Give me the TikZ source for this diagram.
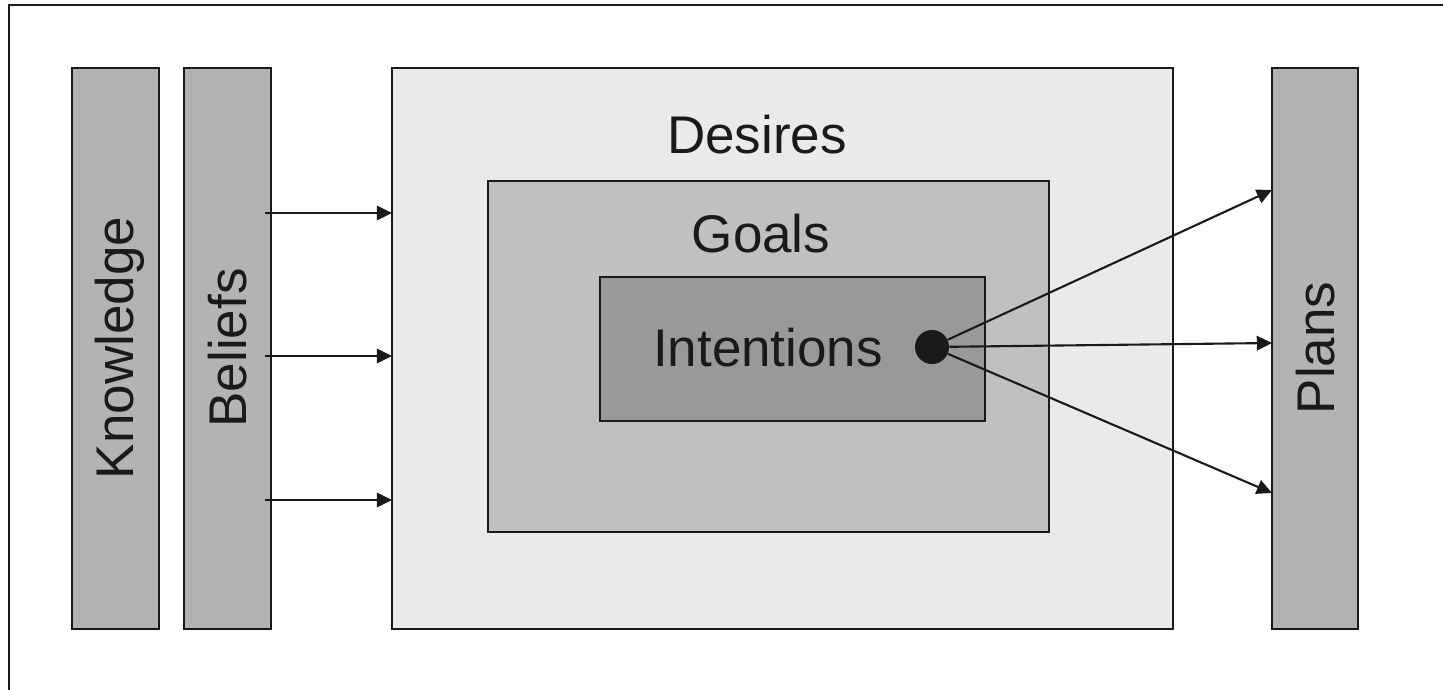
\documentclass[tikz,border=0pt]{standalone}
\usepackage{fontspec}
\setmainfont{Liberation Sans}
\usetikzlibrary{arrows.meta}
\definecolor{ink}{HTML}{1A1A1A}
\definecolor{sidegray}{HTML}{B3B3B3}
\definecolor{desiregray}{HTML}{EAEAEA}
\definecolor{goalgray}{HTML}{C0C0C0}
\definecolor{intentgray}{HTML}{999999}
\begin{document}
\begin{tikzpicture}[x=0.025cm,y=-0.025cm,
  box/.style={draw=ink,line width=2.1pt,inner sep=0pt},
  innerbox/.style={draw=ink,line width=1.6pt,inner sep=0pt},
  label/.style={text=ink,font=\fontsize{37.7}{45}\selectfont,inner sep=0pt},
  vlabel/.style={label,rotate=90,anchor=base},
  link/.style={draw=ink,line width=1.5pt,-{Triangle[length=0.38cm,width=0.36cm]}}]
  \useasboundingbox (0,0) rectangle (1443,690);
  \begin{scope}
    \clip (0,0) rectangle (1443,690);
    \draw[ink,line width=2.1pt] (9,5) rectangle (1460,710);
  \end{scope}

  % side columns
  \path[box,fill=sidegray] (72,68) rectangle (159,629);
  \node[vlabel] (knowledge) at (133,348) {Knowledge};
  \path[box,fill=sidegray] (184,68) rectangle (271,629);
  \node[vlabel] (beliefs) at (246,348) {Beliefs};
  \path[box,fill=sidegray] (1272,68) rectangle (1358,629);
  \node[vlabel] (plans) at (1334,348) {Plans};

  % nested boxes
  \path[box,fill=desiregray] (392,68) rectangle (1173,629);
  \node[label,anchor=base] (desires) at (757,153) {Desires};
  \path[innerbox,fill=goalgray] (488,181) rectangle (1049,532);
  \node[label,anchor=base] (goals) at (761,252) {Goals};
  \path[innerbox,fill=intentgray] (600,277) rectangle (985,421);
  \node[label,anchor=base] (intentions) at (768,366) {Intentions};
  \node[circle,fill=ink,minimum size=0.85cm,inner sep=0pt] (dot) at (932,347) {};

  % arrow end points
  \coordinate (b1) at (265,213);
  \coordinate (b2) at (265,356);
  \coordinate (b3) at (265,500);
  \coordinate (d1) at (392,213);
  \coordinate (d2) at (392,356);
  \coordinate (d3) at (392,500);
  \coordinate (p1) at (1272,190);
  \coordinate (p2) at (1272,343);
  \coordinate (p3) at (1272,493);

  \draw[link] (b1) -- (d1);
  \draw[link] (b2) -- (d2);
  \draw[link] (b3) -- (d3);
  \draw[link] (dot) -- (p1);
  \draw[link] (dot) -- (p2);
  \draw[link] (dot) -- (p3);
\end{tikzpicture}
\end{document}
